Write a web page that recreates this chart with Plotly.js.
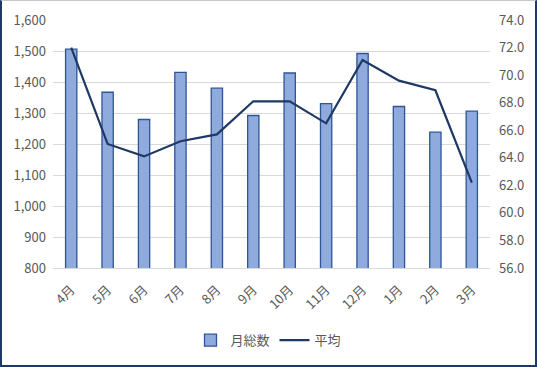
<!DOCTYPE html>
<html><head><meta charset="utf-8">
<script src="https://cdn.plot.ly/plotly-3.0.1.min.js"></script>
<style>
html,body{margin:0;padding:0;background:#fff;}
#wrap{width:537px;height:367px;box-sizing:border-box;border:2px solid #1f3864;border-top:1px solid #c8c8c8;overflow:hidden;}
#chart{width:533px;height:364px;}
</style></head>
<body><div id="wrap"><div id="chart"></div></div>
<script>
const months = ["4月","5月","6月","7月","8月","9月","10月","11月","12月","1月","2月","3月"];
const monthlyTotal = [1506,1367,1279,1431,1380,1292,1429,1330,1492,1321,1238,1306];
const average = [72.0,65.0,64.1,65.2,65.7,68.1,68.1,66.5,71.1,69.6,68.9,62.2];

const fam = '"Noto Sans CJK JP", "Noto Sans", sans-serif';
const tf = {family:fam, size:13, color:'#595959'};

const traces = [
  {type:'bar', x:months, y:monthlyTotal, name:'月総数',
   marker:{color:'#8faadc', line:{color:'#2f5597', width:1.3}}},
  {type:'scatter', mode:'lines', x:months, y:average, name:'平均', yaxis:'y2',
   line:{color:'#1f3864', width:2.2}}
];

const layout = {
  width:533, height:364,
  margin:{l:51, r:45, t:19, b:97, autoexpand:false},
  paper_bgcolor:'#fff', plot_bgcolor:'#fff',
  font:{family:fam, size:12, color:'#595959'},
  bargap:0.69,
  showlegend:true,
  legend:{orientation:'h', x:0.5, xanchor:'center', xref:'container', yref:'container', y:0.068, yanchor:'middle', font:tf},
  xaxis:{type:'category', tickangle:-45, automargin:false, ticklabelstandoff:8, showgrid:false, showline:true, linecolor:'#d9d9d9', linewidth:1, ticks:'', tickfont:tf},
  yaxis:{range:[800,1600], dtick:100, tickformat:',d', automargin:false, ticklabelstandoff:6, showgrid:true, gridcolor:'#d9d9d9', gridwidth:1, zeroline:false, showline:false, ticks:'', tickfont:tf},
  yaxis2:{range:[56,74], dtick:2, tickformat:'.1f', automargin:false, ticklabelstandoff:8, overlaying:'y', side:'right', showgrid:false, zeroline:false, showline:false, ticks:'', tickfont:tf}
};

Plotly.newPlot('chart', traces, layout, {displayModeBar:false, staticPlot:true});
</script>
</body></html>
